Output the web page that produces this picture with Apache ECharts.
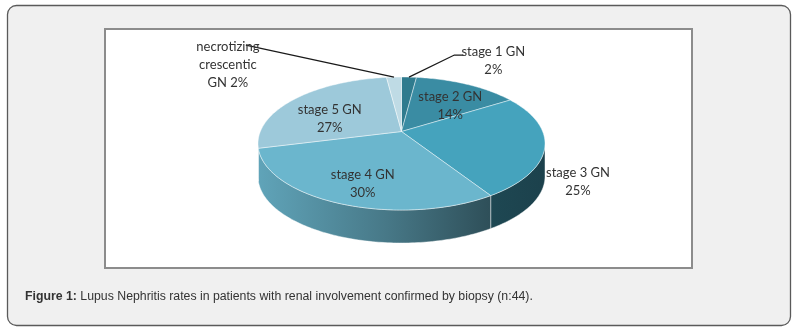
<!DOCTYPE html>
<html>
<head>
<meta charset="utf-8">
<script src="https://cdn.jsdelivr.net/npm/echarts@6/dist/echarts.min.js"></script>
<style>
  html, body { margin: 0; padding: 0; background: #ffffff; }
  #chart { width: 799px; height: 332px; }
</style>
</head>
<body>
<div id="chart"></div>
<script>
// Biopsy classes and their share of the 44 patients (%)
const categories = ['stage 1 GN', 'stage 2 GN', 'stage 3 GN', 'stage 4 GN', 'stage 5 GN', 'necrotizing\ncrescentic\nGN'];
const shares = [2, 14, 25, 30, 27, 2];
const sliceColors = ['#2f7b8e', '#3a8ca3', '#45a3bd', '#6bb6cd', '#9dc9da', '#bfdbe5'];

const captionBold = 'Figure 1:';
const captionText = ' Lupus Nephritis rates in patients with renal involvement confirmed by biopsy (n:44).';

// Tilted pie: the top face outline is an ellipse; `persp` shifts the
// projected centre towards the back (simple perspective), `depth` is the rim.
const PIE = { cx: 401.5, cy: 143.5, rx: 143.5, ry: 66.5, persp: 0.18, depth: 33 };

// Label anchors in ellipse units from the outline centre; optional leader
// line points are offsets from the label anchor.
const labelPlacement = [
  { fx: 0.64, fy: -1.24, leader: [[-39, -6], [-30, -6]] },
  { fx: 0.34, fy: -0.56 },
  { fx: 1.23, fy: 0.58 },
  { fx: -0.27, fy: 0.61 },
  { fx: -0.50, fy: -0.37 },
  { fx: -1.21, fy: -1.18, leader: [[18, -20]] }
];

const total = shares.reduce((a, b) => a + b, 0);
const bounds = [];
{
  let acc = 0;
  shares.forEach(v => {
    const a0 = acc / total * Math.PI * 2;
    acc += v;
    bounds.push([a0, acc / total * Math.PI * 2]);
  });
}

// angle measured clockwise from 12 o'clock; k = radial fraction
function pt(a, k, dy) {
  const u = k * Math.sin(a), v = k * Math.cos(a), p = PIE.persp;
  const w = 1 + p * v;
  const u2 = u * Math.sqrt(1 - p * p) / w;
  const v2 = (v + p) / w;
  return [PIE.cx + PIE.rx * u2, PIE.cy - PIE.ry * v2 + (dy || 0)];
}
function arc(a0, a1, dy) {
  const n = Math.max(2, Math.ceil(Math.abs(a1 - a0) / (Math.PI / 180)));
  const out = [];
  for (let i = 0; i <= n; i++) out.push(pt(a0 + (a1 - a0) * i / n, 1, dy));
  return out;
}
function shade(hex, f) {
  const n = parseInt(hex.slice(1), 16);
  const c = [(n >> 16) & 255, (n >> 8) & 255, n & 255].map(x => Math.round(x * f));
  return 'rgb(' + c.join(',') + ')';
}
function sideFill(hex) {
  return new echarts.graphic.LinearGradient(PIE.cx - PIE.rx, 0, PIE.cx + PIE.rx, 0, [
    { offset: 0, color: shade(hex, 0.9) },
    { offset: 0.45, color: shade(hex, 0.66) },
    { offset: 0.8, color: shade(hex, 0.44) },
    { offset: 1, color: shade(hex, 0.4) }
  ], true);
}

// the rim is visible where the outline faces the viewer
const rimFrom = Math.acos(-PIE.persp);
const rimTo = Math.PI * 2 - rimFrom;

const sliceData = shares.map((v, i) => ({ value: [v, i], name: categories[i] }));
const edgeStroke = 'rgba(255,255,255,0.55)';

const chart = echarts.init(document.getElementById('chart'), null, { renderer: 'canvas' });

chart.setOption({
  animation: false,
  graphic: [
    {
      type: 'rect', z: 0,
      shape: { x: 7.5, y: 5.5, width: 783, height: 320, r: 9 },
      style: { fill: '#f0f0f0', stroke: '#5a5a5a', lineWidth: 1.3 }
    },
    {
      type: 'rect', z: 1,
      shape: { x: 105, y: 29, width: 587, height: 239 },
      style: { fill: '#ffffff', stroke: '#8c8c8c', lineWidth: 2 }
    },
    {
      type: 'text', z: 1, left: 25, top: 291,
      style: {
        text: '{b|' + captionBold + '}' + captionText,
        font: '12.3px "Liberation Sans", Arial, sans-serif',
        fill: '#333333',
        rich: { b: { fontWeight: 'bold', fontSize: 12.3, fontFamily: '"Liberation Sans", Arial, sans-serif', color: '#333333' } }
      }
    }
  ],
  series: [
    {
      // extruded rim of the front-facing slices
      type: 'custom', coordinateSystem: 'none', z: 2, silent: true,
      data: sliceData,
      renderItem: function (params, api) {
        const i = api.value(1);
        const a0 = Math.max(bounds[i][0], rimFrom);
        const a1 = Math.min(bounds[i][1], rimTo);
        if (a1 <= a0) return { type: 'group', children: [] };
        const pts = arc(a0, a1, 0).concat(arc(a1, a0, PIE.depth));
        return {
          type: 'polygon',
          shape: { points: pts },
          style: { fill: sideFill(sliceColors[i]), stroke: edgeStroke, lineWidth: 0.8 }
        };
      }
    },
    {
      // top face of each slice
      type: 'custom', coordinateSystem: 'none', z: 3, silent: true,
      data: sliceData,
      renderItem: function (params, api) {
        const i = api.value(1);
        const pts = [pt(0, 0, 0)].concat(arc(bounds[i][0], bounds[i][1], 0));
        return {
          type: 'polygon',
          shape: { points: pts },
          style: { fill: sliceColors[i], stroke: edgeStroke, lineWidth: 0.8 }
        };
      }
    },
    {
      // data labels and leader lines
      type: 'custom', coordinateSystem: 'none', z: 4, silent: true,
      data: sliceData,
      renderItem: function (params, api) {
        const i = api.value(1);
        const v = api.value(0);
        const p = labelPlacement[i];
        const lx = PIE.cx + p.fx * PIE.rx;
        const ly = PIE.cy + p.fy * PIE.ry;
        const multi = categories[i].indexOf('\n') >= 0;
        const text = categories[i] + (multi ? ' ' : '\n') + Math.round(v / total * 100) + '%';
        const children = [];
        if (p.leader) {
          const mid = (bounds[i][0] + bounds[i][1]) / 2;
          const pts = [pt(mid, 1, 0)].concat(p.leader.map(o => [lx + o[0], ly + o[1]]));
          children.push({
            type: 'polyline',
            shape: { points: pts },
            style: { stroke: '#1a1a1a', lineWidth: 1.3, fill: null }
          });
        }
        children.push({
          type: 'text',
          x: lx, y: ly,
          style: {
            text: text,
            align: 'center', verticalAlign: 'middle',
            font: '13px Lato, "Open Sans", sans-serif',
            lineHeight: 18,
            fill: '#333333'
          }
        });
        return { type: 'group', children: children };
      }
    }
  ]
});
</script>
</body>
</html>
